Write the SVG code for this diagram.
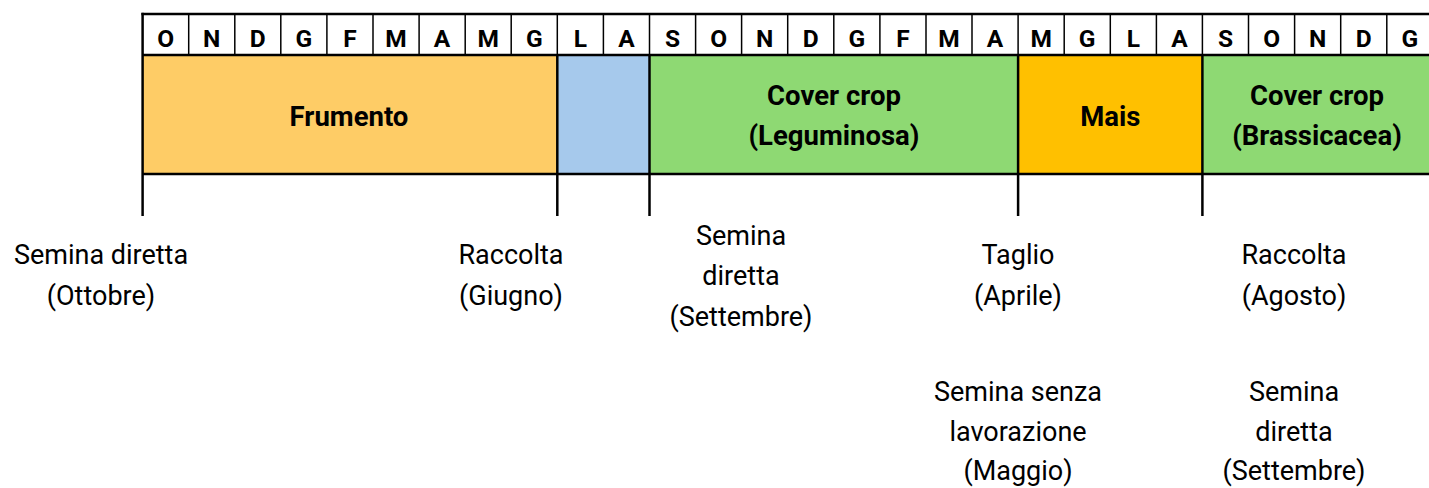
<svg xmlns="http://www.w3.org/2000/svg" width="1429" height="488" viewBox="0 0 1429 488">
<style>
.m{font-family:Roboto,"Liberation Sans",sans-serif;font-weight:bold;font-size:24.5px;text-anchor:middle;fill:#000}
.c{font-family:Roboto,"Liberation Sans",sans-serif;font-weight:bold;font-size:27.5px;text-anchor:middle;fill:#000}
.l{font-family:Roboto,"Liberation Sans",sans-serif;font-size:27px;text-anchor:middle;fill:#000}
.hl{stroke:#000;stroke-width:1.5}
.bl{stroke:#000;stroke-width:2.5;fill:none}
</style>
<rect width="1429" height="488" fill="#fff"/>
<g id="header">
<rect x="142.6" y="14" width="1300" height="41" fill="#fff"/>
<g class="hl">
<line x1="188.7" y1="14" x2="188.7" y2="55"/><line x1="234.8" y1="14" x2="234.8" y2="55"/><line x1="280.8" y1="14" x2="280.8" y2="55"/><line x1="326.9" y1="14" x2="326.9" y2="55"/><line x1="373" y1="14" x2="373" y2="55"/><line x1="419.1" y1="14" x2="419.1" y2="55"/><line x1="465.2" y1="14" x2="465.2" y2="55"/><line x1="511.2" y1="14" x2="511.2" y2="55"/><line x1="557.3" y1="14" x2="557.3" y2="55"/><line x1="603.4" y1="14" x2="603.4" y2="55"/><line x1="649.5" y1="14" x2="649.5" y2="55"/><line x1="695.6" y1="14" x2="695.6" y2="55"/><line x1="741.6" y1="14" x2="741.6" y2="55"/><line x1="787.7" y1="14" x2="787.7" y2="55"/><line x1="833.8" y1="14" x2="833.8" y2="55"/><line x1="879.9" y1="14" x2="879.9" y2="55"/><line x1="926" y1="14" x2="926" y2="55"/><line x1="972" y1="14" x2="972" y2="55"/><line x1="1018.1" y1="14" x2="1018.1" y2="55"/><line x1="1064.2" y1="14" x2="1064.2" y2="55"/><line x1="1110.3" y1="14" x2="1110.3" y2="55"/><line x1="1156.4" y1="14" x2="1156.4" y2="55"/><line x1="1202.4" y1="14" x2="1202.4" y2="55"/><line x1="1248.5" y1="14" x2="1248.5" y2="55"/><line x1="1294.6" y1="14" x2="1294.6" y2="55"/><line x1="1340.7" y1="14" x2="1340.7" y2="55"/><line x1="1386.8" y1="14" x2="1386.8" y2="55"/>
</g>
<g>
<text class="m" x="165.6" y="46.5">O</text><text class="m" x="211.7" y="46.5">N</text><text class="m" x="257.8" y="46.5">D</text><text class="m" x="303.8" y="46.5">G</text><text class="m" x="349.9" y="46.5">F</text><text class="m" x="396" y="46.5">M</text><text class="m" x="442.1" y="46.5">A</text><text class="m" x="488.2" y="46.5">M</text><text class="m" x="534.3" y="46.5">G</text><text class="m" x="580.3" y="46.5">L</text><text class="m" x="626.4" y="46.5">A</text><text class="m" x="672.5" y="46.5">S</text><text class="m" x="718.6" y="46.5">O</text><text class="m" x="764.7" y="46.5">N</text><text class="m" x="810.7" y="46.5">D</text><text class="m" x="856.8" y="46.5">G</text><text class="m" x="902.9" y="46.5">F</text><text class="m" x="949" y="46.5">M</text><text class="m" x="995.1" y="46.5">A</text><text class="m" x="1041.2" y="46.5">M</text><text class="m" x="1087.2" y="46.5">G</text><text class="m" x="1133.3" y="46.5">L</text><text class="m" x="1179.4" y="46.5">A</text><text class="m" x="1225.5" y="46.5">S</text><text class="m" x="1271.6" y="46.5">O</text><text class="m" x="1317.6" y="46.5">N</text><text class="m" x="1363.7" y="46.5">D</text><text class="m" x="1409.8" y="46.5">G</text>
</g>
</g>
<g id="frumento">
<rect x="142.6" y="55" width="414.7" height="119" fill="#FECC66"/>
<text class="c" x="349" y="126">Frumento</text>
</g>
<g id="fallow">
<rect x="557.3" y="55" width="92.2" height="119" fill="#A6C9EC"/>
</g>
<g id="cover-leguminosa">
<rect x="649.5" y="55" width="368.6" height="119" fill="#8ED973"/>
<text class="c" x="834" y="105">Cover crop</text>
<text class="c" x="834" y="145">(Leguminosa)</text>
</g>
<g id="mais">
<rect x="1018.1" y="55" width="184.3" height="119" fill="#FFC000"/>
<text class="c" x="1110.3" y="126">Mais</text>
</g>
<g id="cover-brassicacea">
<rect x="1202.4" y="55" width="240" height="119" fill="#8ED973"/>
<text class="c" x="1317" y="105">Cover crop</text>
<text class="c" x="1317" y="145">(Brassicacea)</text>
</g>
<g id="connectors" class="bl">
<line x1="141.4" y1="14" x2="1429" y2="14"/>
<line x1="142.6" y1="55" x2="1429" y2="55"/>
<line x1="142.6" y1="174" x2="1429" y2="174"/>
<line x1="142.6" y1="12.8" x2="142.6" y2="216"/>
<line x1="557.3" y1="55" x2="557.3" y2="216"/>
<line x1="649.5" y1="55" x2="649.5" y2="216"/>
<line x1="1018.1" y1="55" x2="1018.1" y2="216"/>
<line x1="1202.4" y1="55" x2="1202.4" y2="216"/>
</g>
<g id="label-semina-ottobre">
<text class="l" x="101" y="264">Semina diretta</text>
<text class="l" x="101" y="305">(Ottobre)</text>
</g>
<g id="label-raccolta-giugno">
<text class="l" x="511" y="264">Raccolta</text>
<text class="l" x="511" y="305">(Giugno)</text>
</g>
<g id="label-semina-settembre-1">
<text class="l" x="741" y="245">Semina</text>
<text class="l" x="741" y="285">diretta</text>
<text class="l" x="741" y="326">(Settembre)</text>
</g>
<g id="label-taglio">
<text class="l" x="1018" y="264">Taglio</text>
<text class="l" x="1018" y="305">(Aprile)</text>
</g>
<g id="label-raccolta-agosto">
<text class="l" x="1294" y="264">Raccolta</text>
<text class="l" x="1294" y="305">(Agosto)</text>
</g>
<g id="label-semina-maggio">
<text class="l" x="1018" y="401">Semina senza</text>
<text class="l" x="1018" y="441">lavorazione</text>
<text class="l" x="1018" y="480">(Maggio)</text>
</g>
<g id="label-semina-settembre-2">
<text class="l" x="1294" y="401">Semina</text>
<text class="l" x="1294" y="441">diretta</text>
<text class="l" x="1294" y="480">(Settembre)</text>
</g>
</svg>
